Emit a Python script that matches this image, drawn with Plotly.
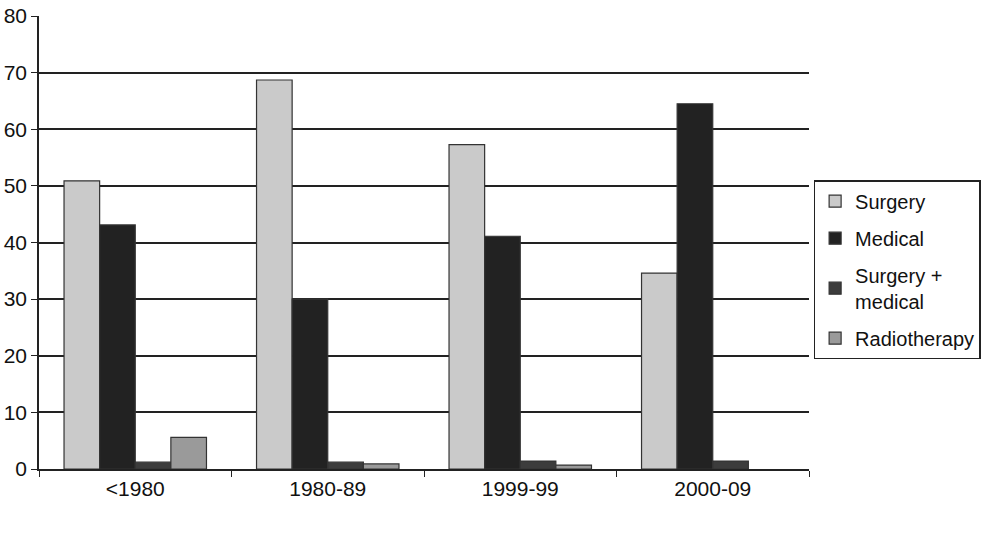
import plotly.graph_objects as go

periods = ["<1980", "1980-89", "1999-99", "2000-09"]
surgery = [50.9, 68.7, 57.3, 34.6]
medical = [43.1, 30.0, 41.1, 64.5]
surgery_medical = [1.2, 1.2, 1.4, 1.4]
radiotherapy = [5.6, 0.9, 0.7, None]

series = [
    ("Surgery", surgery, "#cacaca"),
    ("Medical", medical, "#222222"),
    ("Surgery +<br>medical", surgery_medical, "#3c3c3c"),
    ("Radiotherapy", radiotherapy, "#9a9a9a"),
]

fig = go.Figure()
for name, vals, col in series:
    fig.add_trace(go.Bar(x=periods, y=vals, name=name, legendgroup=name,
                         marker_color=col, marker_line_color="#333333",
                         marker_line_width=1.2))

fig.update_layout(
    width=988, height=538,
    margin=dict(l=39, r=179, t=16, b=69, autoexpand=False),
    plot_bgcolor="white", paper_bgcolor="white",
    barmode="group", bargap=0.26, bargroupgap=0,
    font=dict(family="Liberation Sans, Arial", size=21, color="#111111"),
    legend=dict(x=1.006, y=0.44, xanchor="left", yanchor="middle",
                bordercolor="#222222", borderwidth=1.5,
                font=dict(size=20), tracegroupgap=8, itemwidth=30),
)
fig.update_xaxes(type="category", showline=True, linecolor="#222222", linewidth=1.5,
                 ticks="outside", tickson="boundaries", ticklen=6,
                 tickcolor="#222222", showgrid=False, automargin=False)
fig.update_yaxes(range=[0, 80], dtick=10, showline=True, linecolor="#222222",
                 linewidth=1.5, ticks="outside", ticklen=6, tickcolor="#222222",
                 gridcolor="#222222", gridwidth=1.5, zeroline=False, automargin=False)

# drop the browser's default 8px body margin so the figure sits at the page corner
fig.write_html("out.html", config={"displayModeBar": False},
               post_script="document.body.style.margin='0';")
